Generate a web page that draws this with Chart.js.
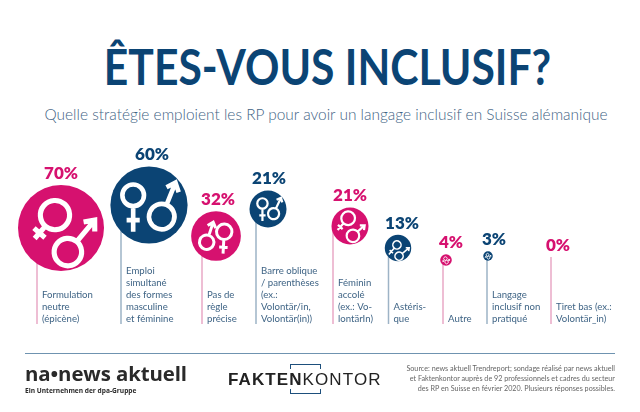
<!DOCTYPE html>
<html lang="fr">
<head>
  <meta charset="UTF-8" />
  <title>Êtes-vous inclusif?</title>
  <style>
    body { margin: 0; background: #fff; font-family: Lato, sans-serif; }
    #page { position: relative; width: 640px; height: 412px; overflow: hidden; }
    #page div { position: absolute; white-space: nowrap; }
    canvas { position: absolute; left: 0; top: 0; }
    h1 { position: absolute; left: 0; width: 655px; top: 36px; margin: 0; text-align: center; font: 700 49px/60px Lato, sans-serif; color: #0b4474; transform: scaleX(0.87); transform-origin: 50% 50%; }
    h2 { position: absolute; left: 0; width: 652px; top: 103px; margin: 0; text-align: center; font: 300 15.45px/22px Lato, sans-serif; color: #3f6485; }
    .rule { left: 25px; top: 353px; width: 590px; height: 1px; background: #6f93b0; }
    .na { left: 25px; top: 359px; font: 700 20.4px/28px "Open Sans", sans-serif; color: #2a2a2a; letter-spacing: -0.1px; }
    .na-sub { left: 25px; top: 386px; font: 700 6.6px/10px "Open Sans", sans-serif; color: #2a2a2a; }
    .fk { left: 228px; top: 370px; font: 400 17px/20px "Liberation Sans", sans-serif; color: #222; letter-spacing: 1.1px; }
    .fk b { font-weight: 700; }
    .br-top { left: 290px; top: 364px; width: 29px; height: 4px; border: 1px solid #1d4f7c; border-bottom: 0; }
    .br-bot { left: 290px; top: 389px; width: 29px; height: 4px; border: 1px solid #1d4f7c; border-top: 0; }
    .src { right: 25px; top: 364px; text-align: right; font: 400 7.2px/10px Lato, sans-serif; color: #666; }
  </style>
</head>
<body>
  <div id="page">
    <h1>ÊTES-VOUS INCLUSIF?</h1>
    <h2>Quelle stratégie emploient les RP pour avoir un langage inclusif en Suisse alémanique</h2>
    <canvas id="chart" width="640" height="412"></canvas>
    <div class="rule"></div>
    <div class="na">na•news aktuell</div>
    <div class="na-sub">Ein Unternehmen der dpa-Gruppe</div>
    <div class="br-top"></div>
    <div class="fk"><b>FAKTEN</b>KONTOR</div>
    <div class="br-bot"></div>
    <div class="src">Source: news aktuell Trendreport; sondage réalisé par news aktuell<br>et Faktenkontor auprès de 92 professionnels et cadres du secteur<br>des RP en Suisse en février 2020. Plusieurs réponses possibles.</div>
  </div>

  <script src="https://cdn.jsdelivr.net/npm/chart.js"></script>
  <script>
    const categories = [
      ['Formulation', 'neutre', '(épicène)'],
      ['Emploi', 'simultané', 'des formes', 'masculine', 'et féminine'],
      ['Pas de', 'règle', 'précise'],
      ['Barre oblique', '/ parenthèses', '(ex.:', 'Volontär/in,', 'Volontär(in))'],
      ['Féminin', 'accolé', '(ex.: Vo-', 'lontärIn)'],
      ['Astéris-', 'que'],
      ['Autre'],
      ['Langage', 'inclusif non', 'pratiqué'],
      ['Tiret bas (ex.:', 'Volontär_in)']
    ];
    const values = [70, 60, 32, 21, 21, 13, 4, 3, 0];

    // where each bubble sits: x along the page, height above the text baseline
    const bubbleX = [61, 149, 216, 268, 350, 398, 446, 488, 551];
    const bubbleHeight = [96, 119, 88, 115, 98, 76, 64, 68, 67];
    const stemX = [37, 121, 202, 256, 333, 388.5, 443, 487, 551];
    const valueLabelX = [61, 152, 218, 269, 350, 402, 451, 494, 558];

    const PINK = '#d6116f';
    const NAVY = '#0b4474';
    const colors = values.map((v, i) => i % 2 === 0 ? PINK : NAVY);
    const stemColors = values.map((v, i) => i % 2 === 0 ? '#e9a9c6' : '#9db3c6');

    // bubble area is not strictly proportional in the original, this power fits it
    function radiusFor(v) {
      return 43 * Math.pow(v / 70, 0.7);
    }

    // symbols inside a bubble, in units of its radius: dx, dy, ring, angle, length
    const venus = [
      [-0.14, -0.30, 0.34, 131, 0.72],
      [-0.41, -0.25, 0.28, 90, 0.94],
      [0.33, -0.17, 0.31, 93, 0.88],
      [-0.30, -0.30, 0.28, 90, 0.95],
      [-0.10, -0.42, 0.37, 132, 0.85],
      [-0.08, -0.23, 0.31, 130, 0.95],
      [-0.10, -0.25, 0.30, 130, 0.80],
      [-0.10, -0.25, 0.30, 130, 0.80]
    ];
    const mars = [
      [0.16, 0.56, 0.32, -50, 0.97],
      [0.33, 0.30, 0.33, -68, 0.95],
      [-0.375, 0.25, 0.29, -72, 0.85],
      [0.30, 0.25, 0.30, -65, 0.95],
      [0.16, 0.53, 0.34, -42, 0.85],
      [0.08, 0.62, 0.31, -40, 1.0],
      [0.10, 0.35, 0.30, -40, 0.70],
      [0.10, 0.35, 0.30, -40, 0.70]
    ];

    function drawSymbol(ctx, cx, cy, r, spec, isMars) {
      const x = cx + spec[0] * r;
      const y = cy + spec[1] * r;
      const ring = spec[2] * r;
      const len = spec[4] * r;
      ctx.save();
      ctx.translate(x, y);
      ctx.rotate(spec[3] * Math.PI / 180);
      ctx.lineWidth = Math.max(0.8, r * 0.12);
      ctx.strokeStyle = '#fff';
      ctx.beginPath();
      ctx.arc(0, 0, ring, 0, Math.PI * 2);
      ctx.moveTo(ring, 0);
      ctx.lineTo(len, 0);
      if (isMars) {
        ctx.moveTo(len - r * 0.2, -r * 0.17);
        ctx.lineTo(len, 0);
        ctx.lineTo(len - r * 0.2, r * 0.17);
      } else {
        const mid = ring + (len - ring) * 0.55;
        ctx.moveTo(mid, -r * 0.17);
        ctx.lineTo(mid, r * 0.17);
      }
      ctx.stroke();
      ctx.restore();
    }

    const labelsPlugin = {
      id: 'labelsPlugin',
      afterDatasetsDraw(chart) {
        const ctx = chart.ctx;
        const xs = chart.scales.x;
        const ys = chart.scales.y;
        const points = chart.getDatasetMeta(0).data;
        ctx.save();
        values.forEach((v, i) => {
          const r = radiusFor(v);
          const p = points[i];
          if (r > 0) {
            drawSymbol(ctx, p.x, p.y, r, venus[i], false);
            drawSymbol(ctx, p.x, p.y, r, mars[i], true);
          }
          // value above the bubble
          ctx.fillStyle = colors[i];
          ctx.font = '800 17px Lato, sans-serif';
          ctx.textAlign = 'center';
          ctx.textBaseline = 'alphabetic';
          ctx.fillText(v + '%', xs.getPixelForValue(valueLabelX[i]), p.y - r - 6);
          // category, last line sits on the baseline
          const lines = categories[i];
          ctx.fillStyle = '#3f6485';
          ctx.font = '400 9.6px Lato, sans-serif';
          ctx.textAlign = 'left';
          lines.forEach((line, n) => {
            const y = ys.getPixelForValue(0) - 2 - (lines.length - 1 - n) * 12;
            ctx.fillText(line, xs.getPixelForValue(stemX[i]) + 5, y);
          });
        });
        ctx.restore();
      }
    };

    const stemSets = values.map((v, i) => ({
      type: 'line',
      data: [{ x: stemX[i], y: 0 }, { x: stemX[i], y: bubbleHeight[i] }],
      borderColor: stemColors[i],
      borderWidth: 1.5,
      pointRadius: 0,
      order: 2
    }));

    new Chart(document.getElementById('chart'), {
      type: 'bubble',
      data: {
        datasets: [{
          data: values.map((v, i) => ({ x: bubbleX[i], y: bubbleHeight[i], r: radiusFor(v) })),
          backgroundColor: colors,
          borderWidth: 0,
          order: 1
        }].concat(stemSets)
      },
      options: {
        responsive: false,
        animation: false,
        layout: { padding: 0, autoPadding: false },
        plugins: { legend: { display: false }, tooltip: { enabled: false } },
        scales: {
          x: { type: 'linear', display: false, min: 0, max: 640 },
          y: { type: 'linear', display: false, min: -88, max: 324 }
        }
      },
      plugins: [labelsPlugin]
    });
  </script>
</body>
</html>
